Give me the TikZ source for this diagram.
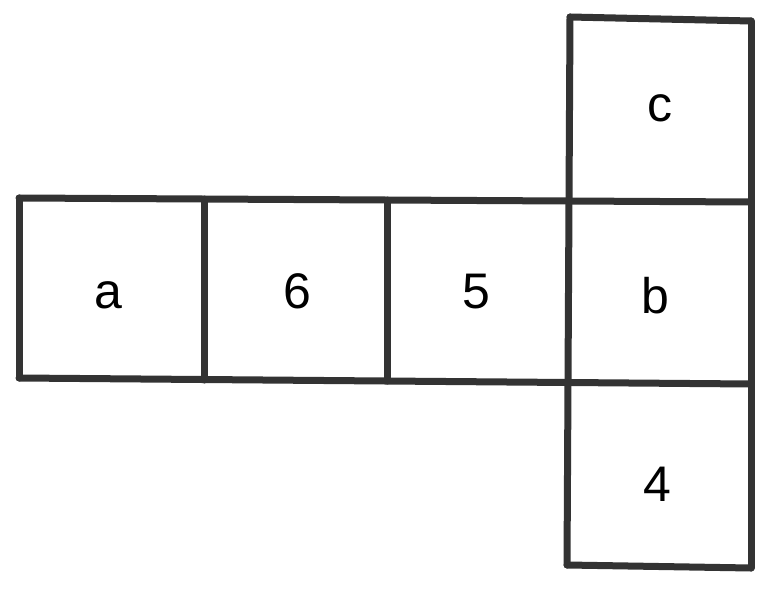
\documentclass[tikz,border=0pt]{standalone}
\usepackage{fontspec}
\setmainfont{Liberation Sans}
\definecolor{edge}{HTML}{333333}
\begin{document}
\begin{tikzpicture}[x=1pt,y=-1pt,
  netline/.style={draw=edge,line width=7pt,line cap=round},
  lbl/.style={font=\fontsize{50}{60}\selectfont,inner sep=0pt,anchor=base}]
\useasboundingbox (0,0) rectangle (783,593);
\coordinate (c1) at (570,17);
\coordinate (c2) at (751,21);
\coordinate (r1) at (19,198);
\coordinate (r2) at (204,199);
\coordinate (r3) at (387,200);
\coordinate (r4) at (569,200);
\coordinate (r5) at (751,202);
\coordinate (s1) at (19,378);
\coordinate (s2) at (204,380);
\coordinate (s3) at (387,381);
\coordinate (s4) at (568,382);
\coordinate (s5) at (751,384);
\coordinate (d1) at (567,565);
\coordinate (d2) at (751,568);
\draw[netline] (c1) -- (c2);
\draw[netline] (c1) -- (r4) -- (s4) -- (d1);
\draw[netline] (c2) -- (r5) -- (s5) -- (d2);
\draw[netline] (r1) -- (r5);
\draw[netline] (s1) -- (s5);
\draw[netline] (d1) -- (d2);
\draw[netline] (r1) -- (s1);
\draw[netline] (r2) -- (s2);
\draw[netline] (r3) -- (s3);
\node[lbl] (la) at (108,308) {a};
\node[lbl] (l6) at (297,308) {6};
\node[lbl] (l5) at (476,308) {5};
\node[lbl] (lb) at (655,313) {b};
\node[lbl] (lc) at (660,122) {c};
\node[lbl] (l4) at (657,501) {4};
\end{tikzpicture}
\end{document}
